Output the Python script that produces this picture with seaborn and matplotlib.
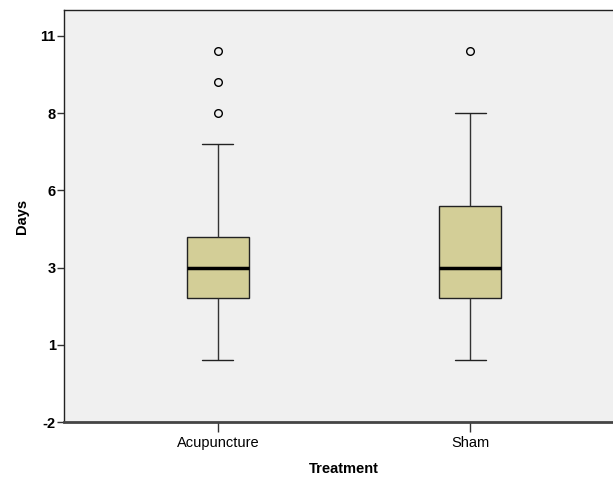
import matplotlib
matplotlib.use("Agg")
import matplotlib.pyplot as plt
import seaborn as sns
import pandas as pd

# Data (days per treatment group, constructed to match box statistics)
acupuncture_days = [0]*2 + [1]*4 + [2]*8 + [3]*8 + [4]*8 + [5]*3 + [6]*2 + [7, 8, 9, 10]
sham_days = [0]*2 + [1]*4 + [2]*8 + [3]*8 + [4]*5 + [5]*6 + [6]*3 + [7]*2 + [8, 10]
categories = ["Acupuncture", "Sham"]
ytick_values = [-2, 0.5, 3, 5.5, 8, 10.5]
ytick_labels = ["-2", "1", "3", "6", "8", "11"]

df = pd.DataFrame({
    "Treatment": [categories[0]]*len(acupuncture_days) + [categories[1]]*len(sham_days),
    "Days": acupuncture_days + sham_days,
})

sns.set_theme(style="white")
plt.rcParams["font.family"] = ["Liberation Sans", "DejaVu Sans"]
plt.rcParams["text.color"] = "black"
plt.rcParams["axes.labelcolor"] = "black"
plt.rcParams["xtick.color"] = "black"
plt.rcParams["ytick.color"] = "black"

fig = plt.figure(figsize=(6.13, 4.79), dpi=100)
ax = fig.add_axes([64/613, 1-422/479, 560/613, 412/479])
ax.set_facecolor("#F0F0F0")

sns.boxplot(
    data=df, x="Treatment", y="Days", order=categories, ax=ax,
    color="#D3CE97", width=0.246, linecolor="#222222", linewidth=1.0,
    saturation=1,
    medianprops={"color": "black", "linewidth": 2.5},
    whiskerprops={"color": "#333333", "linewidth": 1.0},
    capprops={"color": "#222222", "linewidth": 1.0},
    flierprops={"marker": "o", "markersize": 5.5, "markerfacecolor": "none",
                "markeredgecolor": "black", "markeredgewidth": 1.0},
)

ax.set_xlim(-0.611, 1.611)
ax.set_ylim(-2, 11.34)
ax.set_yticks(ytick_values)
ax.set_yticklabels(ytick_labels, fontweight="bold", fontsize=10.5, color="black")
ax.set_xticks([0, 1])
ax.set_xticklabels(categories, fontsize=10.5, color="black")
ax.tick_params(axis="y", direction="out", length=5, width=1, color="#333333", left=True, pad=1)
ax.tick_params(axis="x", direction="out", length=7, width=1, color="#333333", bottom=True, pad=3)

ax.set_xlabel("Treatment", fontweight="bold", fontsize=10.5, labelpad=9, color="black")
ax.set_ylabel("Days", fontweight="bold", fontsize=10.5, labelpad=8, color="black")

for side in ["left", "top", "right"]:
    ax.spines[side].set_color("#222222")
    ax.spines[side].set_linewidth(1.0)
ax.spines["bottom"].set_color("#444444")
ax.spines["bottom"].set_linewidth(2.0)

fig.savefig("out.png", dpi=100, facecolor="white")
